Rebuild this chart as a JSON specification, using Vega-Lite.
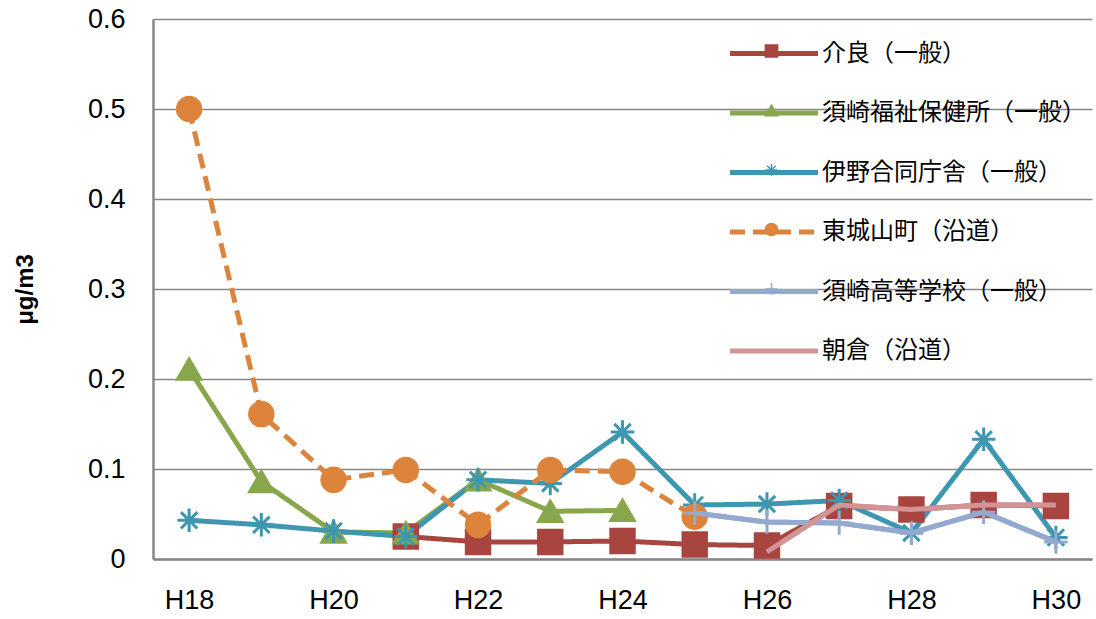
{
  "$schema": "https://vega.github.io/schema/vega-lite/v6.json",
  "width": 939,
  "height": 540,
  "autosize": {"type": "none"},
  "padding": {"left": 153, "top": 19, "right": 4, "bottom": 60},
  "background": "white",
  "config": {"view": {"stroke": null}, "font": "Liberation Sans"},
  "data": {
    "values": [
      {"year": "H21", "site": "介良（一般）", "value": 0.025},
      {"year": "H22", "site": "介良（一般）", "value": 0.019},
      {"year": "H23", "site": "介良（一般）", "value": 0.019},
      {"year": "H24", "site": "介良（一般）", "value": 0.020},
      {"year": "H25", "site": "介良（一般）", "value": 0.016},
      {"year": "H26", "site": "介良（一般）", "value": 0.015},
      {"year": "H27", "site": "介良（一般）", "value": 0.059},
      {"year": "H28", "site": "介良（一般）", "value": 0.055},
      {"year": "H29", "site": "介良（一般）", "value": 0.060},
      {"year": "H30", "site": "介良（一般）", "value": 0.059},
      {"year": "H18", "site": "須崎福祉保健所（一般）", "value": 0.211},
      {"year": "H19", "site": "須崎福祉保健所（一般）", "value": 0.086},
      {"year": "H20", "site": "須崎福祉保健所（一般）", "value": 0.030},
      {"year": "H21", "site": "須崎福祉保健所（一般）", "value": 0.029},
      {"year": "H22", "site": "須崎福祉保健所（一般）", "value": 0.088},
      {"year": "H23", "site": "須崎福祉保健所（一般）", "value": 0.053},
      {"year": "H24", "site": "須崎福祉保健所（一般）", "value": 0.054},
      {"year": "H18", "site": "伊野合同庁舎（一般）", "value": 0.043},
      {"year": "H19", "site": "伊野合同庁舎（一般）", "value": 0.038},
      {"year": "H20", "site": "伊野合同庁舎（一般）", "value": 0.031},
      {"year": "H21", "site": "伊野合同庁舎（一般）", "value": 0.025},
      {"year": "H22", "site": "伊野合同庁舎（一般）", "value": 0.088},
      {"year": "H23", "site": "伊野合同庁舎（一般）", "value": 0.084},
      {"year": "H24", "site": "伊野合同庁舎（一般）", "value": 0.141},
      {"year": "H25", "site": "伊野合同庁舎（一般）", "value": 0.060},
      {"year": "H26", "site": "伊野合同庁舎（一般）", "value": 0.061},
      {"year": "H27", "site": "伊野合同庁舎（一般）", "value": 0.065},
      {"year": "H28", "site": "伊野合同庁舎（一般）", "value": 0.029},
      {"year": "H29", "site": "伊野合同庁舎（一般）", "value": 0.133},
      {"year": "H30", "site": "伊野合同庁舎（一般）", "value": 0.024},
      {"year": "H18", "site": "東城山町（沿道）", "value": 0.500},
      {"year": "H19", "site": "東城山町（沿道）", "value": 0.161},
      {"year": "H20", "site": "東城山町（沿道）", "value": 0.088},
      {"year": "H21", "site": "東城山町（沿道）", "value": 0.099},
      {"year": "H22", "site": "東城山町（沿道）", "value": 0.038},
      {"year": "H23", "site": "東城山町（沿道）", "value": 0.099},
      {"year": "H24", "site": "東城山町（沿道）", "value": 0.097},
      {"year": "H25", "site": "東城山町（沿道）", "value": 0.047},
      {"year": "H25", "site": "須崎高等学校（一般）", "value": 0.051},
      {"year": "H26", "site": "須崎高等学校（一般）", "value": 0.041},
      {"year": "H27", "site": "須崎高等学校（一般）", "value": 0.040},
      {"year": "H28", "site": "須崎高等学校（一般）", "value": 0.029},
      {"year": "H29", "site": "須崎高等学校（一般）", "value": 0.052},
      {"year": "H30", "site": "須崎高等学校（一般）", "value": 0.019},
      {"year": "H26", "site": "朝倉（沿道）", "value": 0.008},
      {"year": "H27", "site": "朝倉（沿道）", "value": 0.060},
      {"year": "H28", "site": "朝倉（沿道）", "value": 0.055},
      {"year": "H29", "site": "朝倉（沿道）", "value": 0.060},
      {"year": "H30", "site": "朝倉（沿道）", "value": 0.060}
    ]
  },
  "encoding": {
    "x": {
      "field": "year",
      "type": "ordinal",
      "scale": {"type": "point", "padding": 0.5, "domain": ["H18","H19","H20","H21","H22","H23","H24","H25","H26","H27","H28","H29","H30"]},
      "axis": {
        "title": null,
        "labelAngle": 0,
        "labelFont": "Liberation Sans",
        "labelFontSize": 27,
        "labelColor": "black",
        "labelPadding": 28,
        "labelOverlap": false,
        "ticks": false,
        "grid": false,
        "domainColor": "#868686",
        "domainWidth": 2.5,
        "labelExpr": "indexof(['H18','H20','H22','H24','H26','H28','H30'], datum.value) >= 0 ? datum.value : ''"
      }
    },
    "y": {
      "field": "value",
      "type": "quantitative",
      "scale": {"domain": [0, 0.6], "nice": false},
      "axis": {
        "title": "μg/m3",
        "titleFont": "Liberation Sans",
        "titleFontSize": 24,
        "titleFontWeight": "bold",
        "titleColor": "black",
        "titleX": -128,
        "titleBaseline": "middle",
        "values": [0, 0.1, 0.2, 0.3, 0.4, 0.5, 0.6],
        "format": "~g",
        "labelFont": "Liberation Sans",
        "labelFontSize": 27,
        "labelColor": "black",
        "labelPadding": 28,
        "ticks": false,
        "grid": true,
        "gridColor": "#868686",
        "gridWidth": 1.5,
        "domainColor": "#868686",
        "domainWidth": 2.5
      }
    }
  },
  "layer": [
    {
      "mark": {"type": "line", "strokeWidth": 5},
      "encoding": {
        "color": {
          "field": "site",
          "type": "nominal",
          "scale": {
            "domain": ["介良（一般）","須崎福祉保健所（一般）","伊野合同庁舎（一般）","東城山町（沿道）","須崎高等学校（一般）","朝倉（沿道）"],
            "range": ["#A84541","#88A64B","#3E97B0","#DC843C","#94A9CF","#D29494"]
          },
          "legend": {
            "orient": "none",
            "legendX": 603.5,
            "legendY": 17,
            "direction": "vertical",
            "title": null,
            "padding": 0,
            "symbolType": "M-3,0L3,0",
            "symbolSize": 860,
            "symbolStrokeWidth": 5,
            "labelFont": "Noto Sans CJK JP",
            "labelFontSize": 24,
            "labelColor": "black",
            "labelLimit": 400,
            "labelOffset": 30.5,
            "rowPadding": 29.5
          }
        },
        "strokeDash": {
          "field": "site",
          "type": "nominal",
          "scale": {
            "domain": ["介良（一般）","須崎福祉保健所（一般）","伊野合同庁舎（一般）","東城山町（沿道）","須崎高等学校（一般）","朝倉（沿道）"],
            "range": [[1,0],[1,0],[1,0],[15,8],[1,0],[1,0]]
          }
        }
      }
    },
    {
      "transform": [{"calculate": "datum.site", "as": "marker"}],
      "mark": {"type": "point", "filled": true, "size": 550, "strokeWidth": 3, "opacity": 1},
      "encoding": {
        "color": {
          "field": "marker",
          "type": "nominal",
          "scale": {
            "domain": ["介良（一般）","須崎福祉保健所（一般）","伊野合同庁舎（一般）","東城山町（沿道）","須崎高等学校（一般）","朝倉（沿道）"],
            "range": ["#A84541","#88A64B","#3E97B0","#DC843C","#94A9CF","#D29494"]
          },
          "legend": {
            "orient": "none",
            "legendX": 603.5,
            "legendY": 17,
            "direction": "vertical",
            "title": null,
            "padding": 0,
            "labelExpr": "''",
            "labelFontSize": 30,
            "symbolSize": 150,
            "symbolStrokeWidth": 1.5,
            "rowPadding": 29.5
          }
        },
        "stroke": {
          "field": "marker",
          "type": "nominal",
          "scale": {
            "domain": ["介良（一般）","須崎福祉保健所（一般）","伊野合同庁舎（一般）","東城山町（沿道）","須崎高等学校（一般）","朝倉（沿道）"],
            "range": ["#A84541","#88A64B","#3E97B0","#DC843C","#94A9CF","#D29494"]
          }
        },
        "shape": {
          "field": "marker",
          "type": "nominal",
          "scale": {
            "domain": ["介良（一般）","須崎福祉保健所（一般）","伊野合同庁舎（一般）","東城山町（沿道）","須崎高等学校（一般）","朝倉（沿道）"],
            "range": ["square","triangle-up","M-1,0L1,0M0,-1L0,1M-0.7,-0.7L0.7,0.7M-0.7,0.7L0.7,-0.7","circle","M-1,0L1,0M0,-1L0,1","M0,0"]
          }
        }
      }
    },
    {
      "transform": [{"filter": "datum.site == '須崎高等学校（一般）' || datum.site == '朝倉（沿道）'"}],
      "mark": {"type": "line", "strokeWidth": 5},
      "encoding": {
        "color": {
          "field": "site",
          "type": "nominal",
          "scale": {
            "domain": ["介良（一般）","須崎福祉保健所（一般）","伊野合同庁舎（一般）","東城山町（沿道）","須崎高等学校（一般）","朝倉（沿道）"],
            "range": ["#A84541","#88A64B","#3E97B0","#DC843C","#94A9CF","#D29494"]
          },
          "legend": null
        }
      }
    }
  ],
  "resolve": {
    "scale": {"color": "independent", "shape": "independent", "stroke": "independent", "strokeDash": "independent"},
    "legend": {"color": "independent"}
  }
}
